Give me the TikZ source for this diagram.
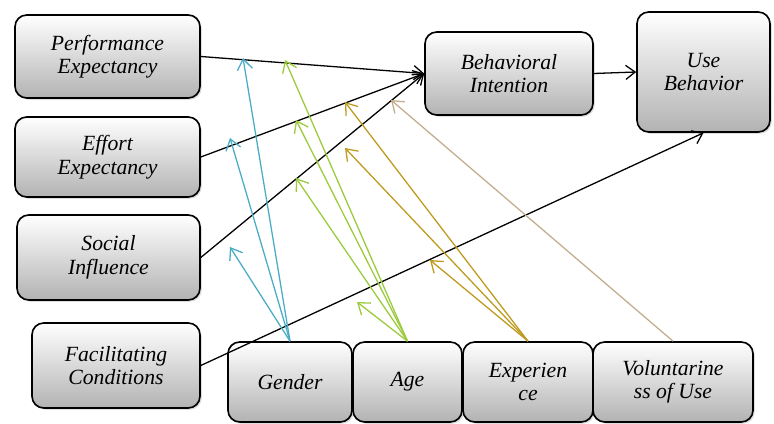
\documentclass[tikz,border=0pt]{standalone}
\usepackage{fontspec}
\setmainfont{Liberation Serif}
\newfontfamily\boxfont{Liberation Serif}
\usepackage{tikz}
\usetikzlibrary{positioning, arrows.meta, calc, shadows}

\definecolor{gendercol}{HTML}{4BACC6}
\definecolor{agecol}{HTML}{9BCB3C}
\definecolor{expcol}{HTML}{BE9B1E}
\definecolor{volcol}{HTML}{C4AD8E}

\tikzset{
  construct/.style={draw=black, line width=1.4pt, rounded corners=10pt,
    top color=white, bottom color=black!30, align=center, inner sep=2pt,
    font=\boxfont\itshape\fontsize{18.5}{20}\selectfont,
    drop shadow={opacity=0.25, shadow xshift=1.5pt, shadow yshift=-1.5pt}},
  effect/.style={line width=1.1pt, -{Straight Barb[length=8pt,width=12pt]}},
  moderator/.style={line width=1.1pt, -{Straight Barb[length=9pt,width=13pt]}}
}

\begin{document}
\begin{tikzpicture}[x=0.3cm, y=0.3cm]
\useasboundingbox (0, 0) rectangle (77.4, 42.3);

% independent constructs
\node[construct, minimum width=5.55cm, minimum height=2.49cm] (pe) at (10.75, 36.65) {Performance\\Expectancy};
\node[construct, minimum width=5.55cm, minimum height=2.4cm] (ee) at (10.75, 26.6) {Effort\\Expectancy};
\node[construct, minimum width=5.49cm, minimum height=2.55cm] (si) at (10.85, 16.55) {Social\\Influence};
\node[construct, minimum width=5.04cm, minimum height=2.55cm] (fc) at (11.6, 5.75) {Facilitating\\Conditions};

% dependent constructs
\node[construct, minimum width=5.04cm, minimum height=2.49cm] (bi) at (50.9, 34.95) {Behavioral\\Intention};
\node[construct, minimum width=3.99cm, minimum height=3.6cm] (ub) at (70.35, 35.1) {Use\\Behavior};

% moderators
\node[construct, minimum width=3.72cm, minimum height=2.4cm] (gender) at (29.0, 4.1) {Gender};
\node[construct, minimum width=3.27cm, minimum height=2.4cm] (age) at (40.75, 4.1) {Age};
\node[construct, minimum width=3.9cm, minimum height=2.4cm] (exp) at (52.8, 4.1) {Experien\\ce};
\node[construct, minimum width=4.8cm, minimum height=2.4cm] (vol) at (67.3, 4.1) {Voluntarine\\ss of Use};

% main paths
\draw[effect] (pe.east) -- (bi.west);
\draw[effect] (ee.east) -- (bi.west);
\draw[effect] (si.east) -- (bi.west);
\draw[effect] (bi.east) -- (ub.west);
\draw[effect] (fc.east) -- (ub.south);

% moderating effects
\coordinate (g1) at (24.3, 36.5);
\coordinate (g2) at (23.0, 28.5);
\coordinate (g3) at (23.0, 17.6);
\coordinate (a1) at (28.5, 36.3);
\coordinate (a2) at (29.6, 30.3);
\coordinate (a3) at (29.6, 24.5);
\coordinate (a4) at (35.7, 12.1);
\coordinate (x1) at (34.5, 32.1);
\coordinate (x2) at (34.5, 27.5);
\coordinate (x3) at (43.0, 16.3);
\coordinate (v1) at (39.1, 32.3);

\foreach \t in {g1, g2, g3}
  \draw[moderator, gendercol] (gender.north) -- (\t);
\foreach \t in {a1, a2, a3, a4}
  \draw[moderator, agecol] (age.north) -- (\t);
\foreach \t in {x1, x2, x3}
  \draw[moderator, expcol] (exp.north) -- (\t);
\draw[moderator, volcol] (vol.north) -- (v1);

\end{tikzpicture}
\end{document}
